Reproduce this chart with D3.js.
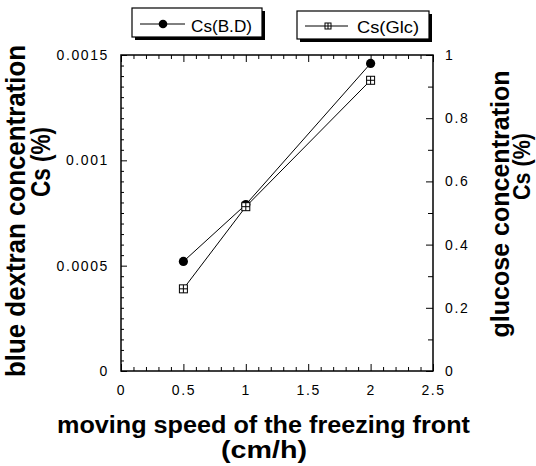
<!DOCTYPE html>
<html>
<head>
<meta charset="utf-8">
<script src="https://cdn.jsdelivr.net/npm/d3@7"></script>
<style>
  html, body { margin: 0; padding: 0; background: #fff; }
  svg { display: block; font-family: "Liberation Sans", Arial, Helvetica, sans-serif; }
</style>
</head>
<body>
<svg id="chart" width="536" height="466"></svg>
<script>
// Freezing-front speed (cm/h)
const speed = [0.5, 1, 2];
// Blue dextran concentration Cs (%), left axis
const csBD = [0.00052, 0.00079, 0.00146];
// Glucose concentration Cs (%), right axis
const csGlc = [0.26, 0.52, 0.92];

const xTicks = [0, 0.5, 1, 1.5, 2, 2.5];
const yLeftTicks = [0, 0.0005, 0.001, 0.0015];
const yLeftLabels = ["0", "0.0005", "0.001", "0.0015"];
const yRightTicks = [0, 0.2, 0.4, 0.6, 0.8, 1];
const yRightLabels = ["0", "0.2", "0.4", "0.6", "0.8", "1"];

const seriesNames = ["Cs(B.D)", "Cs(Glc)"];

const svg = d3.select("#chart");
const L = 121, R = 433, T = 55, B = 371;

const x = d3.scaleLinear().domain([0, 2.5]).range([L, R]);
const yL = d3.scaleLinear().domain([0, 0.0015]).range([B, T]);
const yR = d3.scaleLinear().domain([0, 1]).range([B, T]);

// Minor ticks (inside)
const xMinor = d3.range(0, 2.5001, 0.1).filter(v => !xTicks.some(t => Math.abs(t - v) < 1e-6));
const yLMinor = d3.range(0, 0.0015001, 0.00005).filter(v => !yLeftTicks.some(t => Math.abs(t - v) < 1e-9));
const yRMinor = d3.range(0, 1.0001, 0.1).filter(v => !yRightTicks.some(t => Math.abs(t - v) < 1e-6));

function styleAxis(g) {
  g.select(".domain").remove();
  g.selectAll(".tick line").attr("stroke", "#000").attr("stroke-width", 1);
  g.selectAll(".tick text")
    .attr("fill", "#000")
    .style("font-size", "14px")
    .style("letter-spacing", "1.6px");
}

// Bottom axis: major ticks with labels, pointing up into the plot
svg.append("g").attr("transform", `translate(0,${B})`)
  .call(d3.axisBottom(x).tickValues(xTicks).tickFormat(d3.format("")).tickSizeInner(-7).tickSizeOuter(0).tickPadding(14))
  .call(styleAxis);
svg.append("g").attr("transform", `translate(0,${B})`)
  .call(d3.axisBottom(x).tickValues(xMinor).tickFormat("").tickSizeInner(-4).tickSizeOuter(0))
  .call(styleAxis);

// Top axis: mirrored ticks without labels
svg.append("g").attr("transform", `translate(0,${T})`)
  .call(d3.axisTop(x).tickValues(xTicks).tickFormat("").tickSizeInner(-7).tickSizeOuter(0))
  .call(styleAxis);
svg.append("g").attr("transform", `translate(0,${T})`)
  .call(d3.axisTop(x).tickValues(xMinor).tickFormat("").tickSizeInner(-4).tickSizeOuter(0))
  .call(styleAxis);

// Left axis (blue dextran)
svg.append("g").attr("transform", `translate(${L},0)`)
  .call(d3.axisLeft(yL).tickValues(yLeftTicks).tickFormat((d, i) => yLeftLabels[i]).tickSizeInner(-6).tickSizeOuter(0).tickPadding(12))
  .call(styleAxis);
svg.append("g").attr("transform", `translate(${L},0)`)
  .call(d3.axisLeft(yL).tickValues(yLMinor).tickFormat("").tickSizeInner(-3).tickSizeOuter(0))
  .call(styleAxis);

// Right axis (glucose)
svg.append("g").attr("transform", `translate(${R},0)`)
  .call(d3.axisRight(yR).tickValues(yRightTicks).tickFormat((d, i) => yRightLabels[i]).tickSizeInner(-7).tickSizeOuter(0).tickPadding(12))
  .call(styleAxis);
svg.append("g").attr("transform", `translate(${R},0)`)
  .call(d3.axisRight(yR).tickValues(yRMinor).tickFormat("").tickSizeInner(-5).tickSizeOuter(0))
  .call(styleAxis);

// Plot frame
svg.append("rect")
  .attr("x", L).attr("y", T).attr("width", R - L).attr("height", B - T)
  .attr("fill", "none").attr("stroke", "#000").attr("stroke-width", 1.5);

// Series lines
const lineBD = d3.line().x((d, i) => x(speed[i])).y(d => yL(d));
const lineGlc = d3.line().x((d, i) => x(speed[i])).y(d => yR(d));

svg.append("path").datum(csBD).attr("d", lineBD)
  .attr("fill", "none").attr("stroke", "#000").attr("stroke-width", 1);
svg.append("path").datum(csGlc).attr("d", lineGlc)
  .attr("fill", "none").attr("stroke", "#000").attr("stroke-width", 1);

// Markers
function crossSquare(g, cx, cy, s) {
  const h = s / 2;
  g.append("rect").attr("x", cx - h).attr("y", cy - h).attr("width", s).attr("height", s)
    .attr("fill", "#fff").attr("stroke", "#000").attr("stroke-width", 1);
  g.append("line").attr("x1", cx - h).attr("x2", cx + h).attr("y1", cy).attr("y2", cy)
    .attr("stroke", "#000").attr("stroke-width", 1);
  g.append("line").attr("x1", cx).attr("x2", cx).attr("y1", cy - h).attr("y2", cy + h)
    .attr("stroke", "#000").attr("stroke-width", 1);
}

svg.append("g").selectAll("circle").data(csBD).join("circle")
  .attr("cx", (d, i) => x(speed[i])).attr("cy", d => yL(d)).attr("r", 4.6).attr("fill", "#000");

const glcG = svg.append("g");
csGlc.forEach((d, i) => crossSquare(glcG, x(speed[i]), yR(d), 8));

// Legend boxes with drop shadows
function legendBox(x0, y0, w, h) {
  svg.append("rect").attr("x", x0 + 3).attr("y", y0 + 3).attr("width", w).attr("height", h).attr("fill", "#000");
  svg.append("rect").attr("x", x0).attr("y", y0).attr("width", w).attr("height", h)
    .attr("fill", "#fff").attr("stroke", "#000").attr("stroke-width", 1.2);
}

legendBox(132, 8, 130, 29);
svg.append("line").attr("x1", 140).attr("x2", 185).attr("y1", 24).attr("y2", 24).attr("stroke", "#000");
svg.append("circle").attr("cx", 163).attr("cy", 24).attr("r", 4.3).attr("fill", "#000");
svg.append("text").attr("x", 191).attr("y", 32).text(seriesNames[0])
  .attr("textLength", 61).attr("lengthAdjust", "spacingAndGlyphs")
  .style("font-size", "17px").attr("fill", "#000");

legendBox(297, 11, 132, 28);
svg.append("line").attr("x1", 305).attr("x2", 348).attr("y1", 26).attr("y2", 26).attr("stroke", "#000");
crossSquare(svg.append("g"), 328, 26, 6);
svg.append("text").attr("x", 357).attr("y", 33).text(seriesNames[1])
  .attr("textLength", 62).attr("lengthAdjust", "spacingAndGlyphs")
  .style("font-size", "17px").attr("fill", "#000");

// Axis titles (slightly wide bold face)
function title(tf, str, size, len) {
  svg.append("text").attr("transform", tf).text(str)
    .attr("textLength", len).attr("lengthAdjust", "spacingAndGlyphs")
    .style("font-size", size + "px").style("font-weight", "bold")
    .attr("fill", "#000").attr("text-anchor", "middle");
}

title("translate(263.5,433)", "moving speed of the freezing front", 23, 413);
title("translate(264,458)", "(cm/h)", 23, 86);

title("translate(25,211) scale(1.1,1) rotate(-90)", "blue dextran concentration", 25, 332);
title("translate(50,162) scale(1.1,1) rotate(-90)", "Cs (%)", 25, 70);

title("translate(509,204) scale(1.05,1) rotate(-90)", "glucose concentration", 24, 267);
title("translate(530,166.5) scale(1.05,1) rotate(-90)", "Cs (%)", 22, 67);
</script>
</body>
</html>
